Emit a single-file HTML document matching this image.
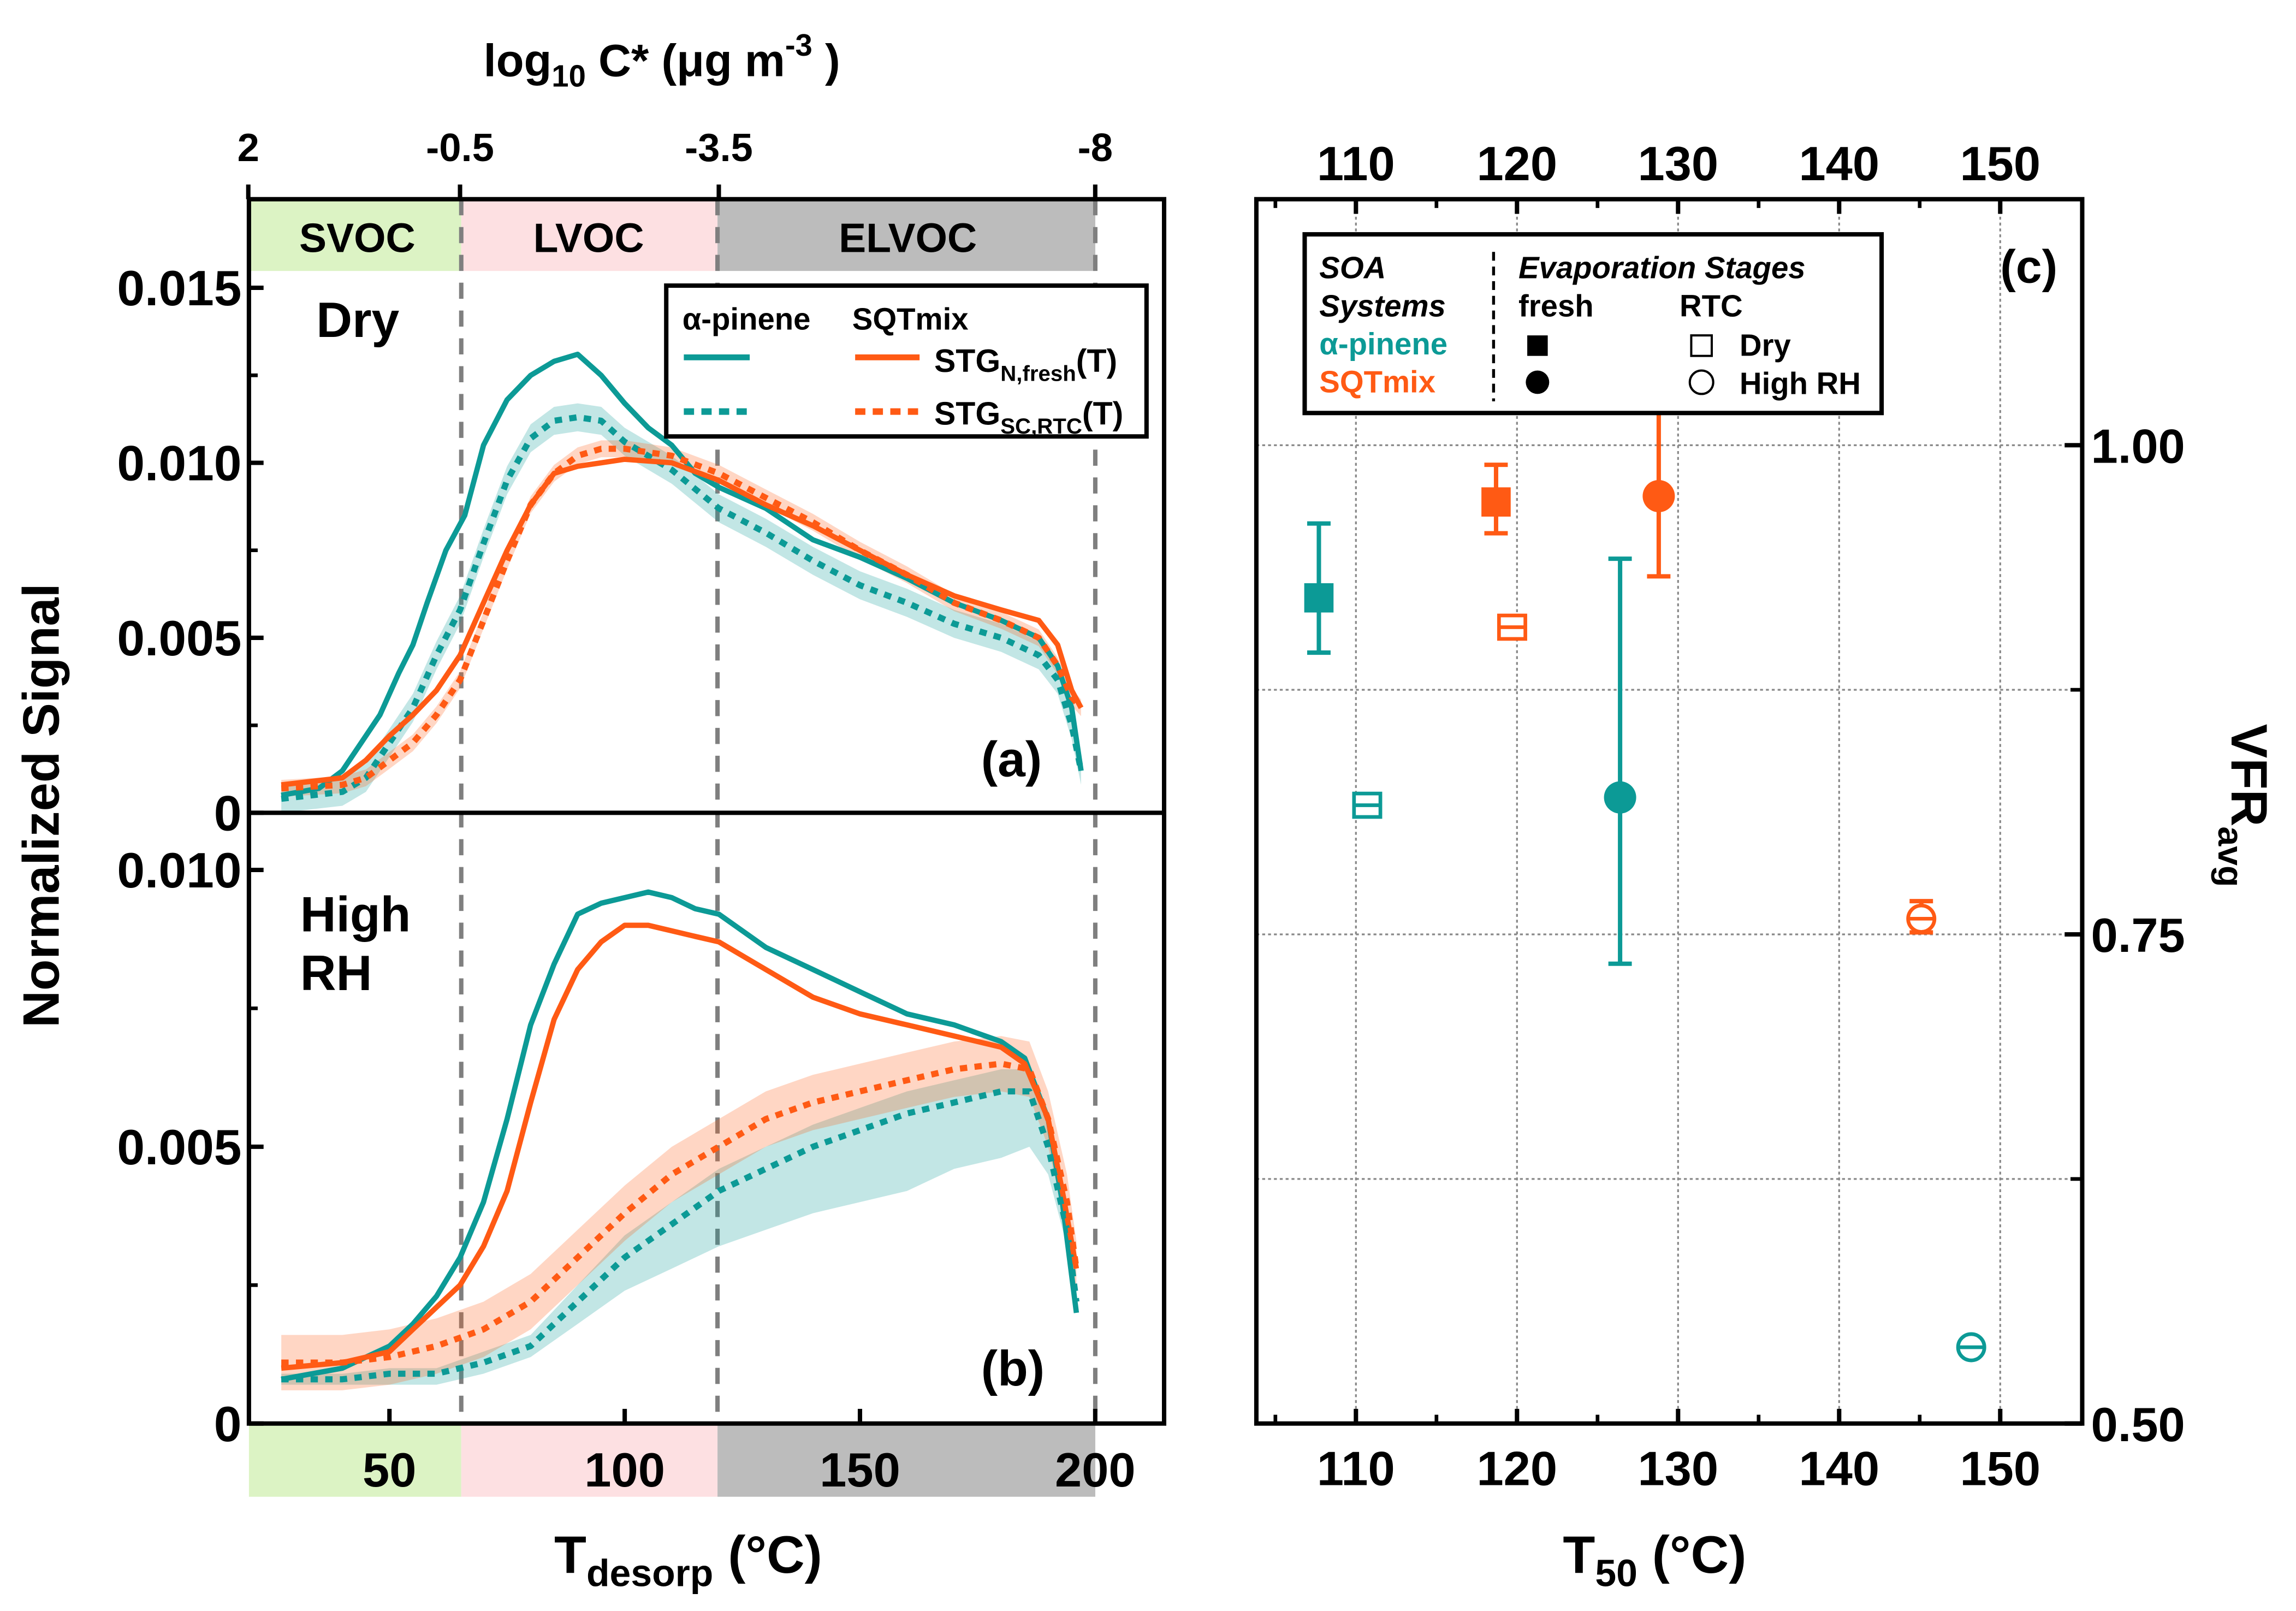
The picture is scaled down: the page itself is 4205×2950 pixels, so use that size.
<!DOCTYPE html>
<html><head><meta charset="utf-8">
<style>
html,body{margin:0;padding:0;background:#fff}
svg{display:block}
text{font-family:"Liberation Sans",Arial,sans-serif;font-weight:bold}
</style></head><body>
<svg id="chart" width="4205" height="2950" viewBox="0 0 1568 1100" xmlns="http://www.w3.org/2000/svg">
<g id="bg"><rect x="0" y="0" width="1568" height="1100" fill="#fff"/></g>
</svg>
<script>
// ---------- DATA ----------
const dryAlphaT = [27,35,40,45,48,52,55,58,62,66,70,75,80,85,90,95,100,105,110,115,120,130,140,150,160,170,180,188,192,195,197];
const dryAlphaFresh = [0.0005,0.0007,0.0012,0.0022,0.0028,0.004,0.0048,0.006,0.0075,0.0085,0.0105,0.0118,0.0125,0.0129,0.0131,0.0125,0.0117,0.011,0.0105,0.0097,0.0093,0.0087,0.0078,0.0073,0.0067,0.006,0.0055,0.005,0.0042,0.003,0.0012];
const dryT = [27,40,45,50,55,60,65,70,75,80,85,90,95,100,110,120,130,140,150,160,170,180,188,192,195,197];
const dryAlphaRTC = [0.0004,0.0006,0.001,0.002,0.003,0.0045,0.0058,0.0077,0.0095,0.0107,0.0112,0.0113,0.0112,0.0106,0.0098,0.0087,0.008,0.0072,0.0065,0.006,0.0054,0.005,0.0045,0.0038,0.0025,0.0012];
const drySqtFresh = [0.0008,0.001,0.0015,0.0022,0.0028,0.0035,0.0045,0.006,0.0075,0.0088,0.0097,0.0099,0.01,0.0101,0.01,0.0095,0.0088,0.0082,0.0075,0.0068,0.0062,0.0058,0.0055,0.0048,0.0035,0.003];
const drySqtRTC = [0.0007,0.0008,0.001,0.0015,0.002,0.0028,0.0038,0.0055,0.0072,0.0088,0.0097,0.0102,0.0104,0.0104,0.0102,0.0097,0.009,0.0083,0.0075,0.0068,0.006,0.0055,0.005,0.0042,0.0033,0.003];
const wetT = [27,40,50,55,60,65,70,75,80,85,90,95,100,105,110,115,120,130,140,150,160,170,180,185,190,193,196];
const wetAlphaFresh = [0.0008,0.001,0.0014,0.0018,0.0023,0.003,0.004,0.0055,0.0072,0.0083,0.0092,0.0094,0.0095,0.0096,0.0095,0.0093,0.0092,0.0086,0.0082,0.0078,0.0074,0.0072,0.0069,0.0066,0.0055,0.004,0.002];
const wetSqtFresh = [0.001,0.0011,0.0013,0.0017,0.0021,0.0025,0.0032,0.0042,0.0058,0.0073,0.0082,0.0087,0.009,0.009,0.0089,0.0088,0.0087,0.0082,0.0077,0.0074,0.0072,0.007,0.0068,0.0065,0.0055,0.0042,0.0028];
const wetRtcT = [27,40,50,60,70,80,90,100,110,120,130,140,150,160,170,180,186,190,194,196];
const wetAlphaRTC = [0.0008,0.0008,0.0009,0.0009,0.0011,0.0014,0.0022,0.003,0.0036,0.0042,0.0046,0.005,0.0053,0.0056,0.0058,0.006,0.006,0.005,0.0035,0.0022];
const wetAlphaRTCLo = [0.0007,0.0007,0.0007,0.0007,0.0009,0.0012,0.0018,0.0024,0.0028,0.0032,0.0035,0.0038,0.004,0.0042,0.0046,0.0048,0.005,0.0045,0.0032,0.002];
const wetAlphaRTCHi = [0.0009,0.0009,0.001,0.001,0.0013,0.0016,0.0025,0.0034,0.004,0.0046,0.005,0.0054,0.0057,0.006,0.0062,0.0064,0.0064,0.0055,0.0038,0.0024];
const wetSqtRTC = [0.0011,0.0011,0.0012,0.0014,0.0017,0.0022,0.003,0.0038,0.0045,0.005,0.0055,0.0058,0.006,0.0062,0.0064,0.0065,0.0064,0.0055,0.004,0.0028];
const dryBand = 0.0004, wetSqtBand = 0.0005;

const vfrLabels = ['a-fresh-dry','sqt-fresh-dry','a-rtc-dry','sqt-rtc-dry','a-fresh-rh','sqt-fresh-rh','sqt-rtc-rh','a-rtc-rh'];
const vfrT50 = [107.7,118.7,110.7,119.7,126.4,128.8,145.1,148.2];
const vfrVal = [0.922,0.971,0.816,0.907,0.82,0.974,0.758,0.539];
const vfrLo = [0.894,0.955,0.816,0.907,0.735,0.933,0.751,0.539];
const vfrHi = [0.96,0.99,0.816,0.907,0.942,1.025,0.767,0.539];
const vfrSystem = ['a','s','a','s','a','s','s','a'];
const vfrShape = ['sq','sq','osq','osq','ci','ci','oci','oci'];

const leftXTicks = [50,100,150,200];
const topLabels = ['2','-0.5','-3.5','-8'];
const topLabelT = [20,65,120,200];
const aTicks = ['0','0.005','0.010','0.015'];
const bTicks = ['0','0.005','0.010'];
const rxTicks = [110,120,130,140,150];
const ryTicks = ['0.50','0.75','1.00'];

// ---------- AXES ----------
const xT = t => 105.3 + 3.2133*t;
const ya = v => 555 - v*23900;
const yb = v => 972 - v*37800;
const xR = t => 926 + (t-110)*11.0;
const yR = v => 972 - (v-0.5)*1336;

const TEAL='#0c9a96', ORANGE='#ff5a14';
const svg=document.getElementById('chart');
const NS='http://www.w3.org/2000/svg';
function mk(tag,attrs,parent){const e=document.createElementNS(NS,tag);for(const k in attrs)e.setAttribute(k,attrs[k]);(parent||svg).appendChild(e);return e;}
function txt(s,attrs,parent){if(!attrs.fill)attrs.fill='#000';const e=mk('text',attrs,parent);e.textContent=s;return e;}
function pathD(ts,vs,yf){return ts.map((t,i)=>(i?'L':'M')+xT(t).toFixed(1)+','+yf(vs[i]).toFixed(1)).join('');}
function bandD(ts,lo,hi,yf){let d=ts.map((t,i)=>(i?'L':'M')+xT(t).toFixed(1)+','+yf(hi[i]).toFixed(1)).join('');for(let i=ts.length-1;i>=0;i--)d+='L'+xT(ts[i]).toFixed(1)+','+yf(lo[i]).toFixed(1);return d+'Z';}

let e;
e=mk('rect',{x:170,y:136,width:145,height:49,fill:'#dcf3c4'});
e=mk('rect',{x:315,y:136,width:175,height:49,fill:'#fde0e2'});
e=mk('rect',{x:490,y:136,width:258,height:49,fill:'#bcbcbc'});
e=mk('rect',{x:170,y:972,width:145,height:50,fill:'#dcf3c4'});
e=mk('rect',{x:315,y:972,width:175,height:50,fill:'#fde0e2'});
e=mk('rect',{x:490,y:972,width:258,height:50,fill:'#bcbcbc'});
e=txt('SVOC',{x:244,y:172,'font-size':28,'text-anchor':'middle'});
e=txt('LVOC',{x:402,y:172,'font-size':28,'text-anchor':'middle'});
e=txt('ELVOC',{x:620,y:172,'font-size':28,'text-anchor':'middle'});

[315,490,748].forEach(x=>{const l=mk('line',{x1:x,y1:136,x2:x,y2:972,stroke:'#7f7f7f','stroke-width':3,'stroke-dasharray':'11,8'});});

function band(d,col,op,name){const p=mk('path',{d:d,fill:col,'fill-opacity':op,stroke:'none'});}
band(bandD(dryT,dryAlphaRTC.map(v=>v-dryBand),dryAlphaRTC.map(v=>v+dryBand),ya),TEAL,0.25,'dry-alpha-rtc-band');
band(bandD(dryT,drySqtRTC.map(v=>v-dryBand*0.6),drySqtRTC.map(v=>v+dryBand*0.6),ya),ORANGE,0.25,'dry-sqt-rtc-band');
band(bandD(wetRtcT,wetAlphaRTCLo,wetAlphaRTCHi,yb),TEAL,0.25,'rh-alpha-rtc-band');
band(bandD(wetRtcT,wetSqtRTC.map(v=>v-wetSqtBand),wetSqtRTC.map(v=>v+wetSqtBand),yb),ORANGE,0.25,'rh-sqt-rtc-band');
function line(d,col,dash,name){const p=mk('path',{d:d,fill:'none',stroke:col,'stroke-width':dash?4.2:3.6,'stroke-linejoin':'round'});if(dash)p.setAttribute('stroke-dasharray','5,5');}
line(pathD(dryAlphaT,dryAlphaFresh,ya),TEAL,false,'dry-alpha-fresh-line');
line(pathD(dryT,dryAlphaRTC,ya),TEAL,true,'dry-alpha-rtc-line');
line(pathD(dryT,drySqtFresh,ya),ORANGE,false,'dry-sqt-fresh-line');
line(pathD(dryT,drySqtRTC,ya),ORANGE,true,'dry-sqt-rtc-line');
line(pathD(wetT,wetAlphaFresh,yb),TEAL,false,'rh-alpha-fresh-line');
line(pathD(wetT,wetSqtFresh,yb),ORANGE,false,'rh-sqt-fresh-line');
line(pathD(wetRtcT,wetAlphaRTC,yb),TEAL,true,'rh-alpha-rtc-line');
line(pathD(wetRtcT,wetSqtRTC,yb),ORANGE,true,'rh-sqt-rtc-line');

e=mk('rect',{x:170,y:136,width:625,height:836,fill:'none',stroke:'#000','stroke-width':3});
e=mk('line',{x1:170,y1:555,x2:795,y2:555,stroke:'#000','stroke-width':3});

aTicks.forEach((s,i)=>{const v=i*0.005;const y=ya(v);const t=mk('line',{x1:170,y1:y,x2:180,y2:y,stroke:'#000','stroke-width':3});
 const l=txt(s,{x:165,y:y+12,'font-size':34,'text-anchor':'end'});
 if(i<3){const m=mk('line',{x1:170,y1:ya(v+0.0025),x2:176,y2:ya(v+0.0025),stroke:'#000','stroke-width':2.5});}});
bTicks.forEach((s,i)=>{const v=i*0.005;const y=yb(v);const t=mk('line',{x1:170,y1:y,x2:180,y2:y,stroke:'#000','stroke-width':3});
 if(i>0){const l=txt(s,{x:165,y:y+12,'font-size':34,'text-anchor':'end'});}
 if(i<2){const m=mk('line',{x1:170,y1:yb(v+0.0025),x2:176,y2:yb(v+0.0025),stroke:'#000','stroke-width':2.5});}});
e=txt('0',{x:165,y:984,'font-size':34,'text-anchor':'end'});
leftXTicks.forEach(t=>{const x=xT(t);const k=mk('line',{x1:x,y1:972,x2:x,y2:962,stroke:'#000','stroke-width':3});
 const l=txt(String(t),{x:x,y:1015,'font-size':33,'text-anchor':'middle'});});
e=txt('',{x:470,y:1074,'font-size':36,'text-anchor':'middle'});
e.innerHTML='T<tspan font-size="26" dy="9">desorp</tspan><tspan dy="-9"> (°C)</tspan>';
topLabels.forEach((s,i)=>{const x=xT(topLabelT[i]);const k=mk('line',{x1:x,y1:136,x2:x,y2:126,stroke:'#000','stroke-width':3});
 const l=txt(s,{x:x,y:110,'font-size':27,'text-anchor':'middle'});});
e=txt('',{x:452,y:52,'font-size':31,'text-anchor':'middle'});
e.innerHTML='log<tspan font-size="21" dy="7">10</tspan><tspan dy="-7"> C* (μg m</tspan><tspan font-size="21" dy="-14">-3</tspan><tspan dy="14"> )</tspan>';
e=txt('Normalized Signal',{x:40,y:550,'font-size':35,'text-anchor':'middle',transform:'rotate(-90 40 550)'});
e=txt('Dry',{x:216,y:230,'font-size':34});
e=txt('High',{x:205,y:636,'font-size':34});
e=txt('RH',{x:205,y:676,'font-size':34});
e=txt('(a)',{x:670,y:530,'font-size':34});
e=txt('(b)',{x:670,y:946,'font-size':34});

const lg=mk('g',{});
mk('rect',{x:455,y:195,width:328,height:103,fill:'#fff',stroke:'#000','stroke-width':3},lg);
txt('α-pinene',{x:466,y:225,'font-size':21},lg);
txt('SQTmix',{x:582,y:225,'font-size':21},lg);
mk('line',{x1:467,y1:244,x2:512,y2:244,stroke:TEAL,'stroke-width':4},lg);
mk('line',{x1:584,y1:244,x2:628,y2:244,stroke:ORANGE,'stroke-width':4},lg);
mk('line',{x1:467,y1:281,x2:512,y2:281,stroke:TEAL,'stroke-width':4.5,'stroke-dasharray':'7,5'},lg);
mk('line',{x1:584,y1:281,x2:628,y2:281,stroke:ORANGE,'stroke-width':4.5,'stroke-dasharray':'7,5'},lg);
const l1=txt('',{x:638,y:254,'font-size':22},lg);l1.innerHTML='STG<tspan font-size="15" dy="6">N,fresh</tspan><tspan dy="-6">(T)</tspan>';
const l2=txt('',{x:638,y:290,'font-size':22},lg);l2.innerHTML='STG<tspan font-size="15" dy="6">SC,RTC</tspan><tspan dy="-6">(T)</tspan>';

// ---------- RIGHT PANEL ----------
rxTicks.forEach(t=>{const x=xR(t);const g=mk('line',{x1:x,y1:136,x2:x,y2:972,stroke:'#888','stroke-width':1.2,'stroke-dasharray':'2,2'});});
[0.625,0.75,0.875,1.0].forEach(v=>{const y=yR(v);const g=mk('line',{x1:858,y1:y,x2:1422,y2:y,stroke:'#888','stroke-width':1.2,'stroke-dasharray':'2,2'});});
e=mk('rect',{x:858,y:136,width:564,height:836,fill:'none',stroke:'#000','stroke-width':3});
rxTicks.forEach(t=>{const x=xR(t);
 [[972,962],[136,146]].forEach(p=>{const k=mk('line',{x1:x,y1:p[0],x2:x,y2:p[1],stroke:'#000','stroke-width':3});});
 [[972,966],[136,142]].forEach(p=>{const k=mk('line',{x1:x-55,y1:p[0],x2:x-55,y2:p[1],stroke:'#000','stroke-width':2.5});});
 const l=txt(String(t),{x:x,y:1014,'font-size':33,'text-anchor':'middle'});
 const u=txt(String(t),{x:x,y:123,'font-size':33,'text-anchor':'middle'});});
ryTicks.forEach(s=>{const y=yR(parseFloat(s));const k=mk('line',{x1:1422,y1:y,x2:1410,y2:y,stroke:'#000','stroke-width':3});
 const l=txt(s,{x:1428,y:y+12,'font-size':33});});
[0.625,0.875].forEach(v=>{const k=mk('line',{x1:1422,y1:yR(v),x2:1414,y2:yR(v),stroke:'#000','stroke-width':2.5});});
e=txt('',{x:1130,y:1074,'font-size':36,'text-anchor':'middle'});
e.innerHTML='T<tspan font-size="26" dy="9">50</tspan><tspan dy="-9"> (°C)</tspan>';
e=txt('',{x:1524,y:550,'font-size':35,'text-anchor':'middle',transform:'rotate(90 1524 550)'});
e.innerHTML='VFR<tspan font-size="24" dy="9">avg</tspan>';
e=txt('(c)',{x:1366,y:193,'font-size':32});

vfrT50.forEach((t,i)=>{const col=vfrSystem[i]==='a'?TEAL:ORANGE;const x=xR(t),y=yR(vfrVal[i]);
 const g=mk('g',{});
 const y1=yR(vfrHi[i]),y2=yR(vfrLo[i]);
 if(y2-y1>2){mk('line',{x1:x,y1:y1,x2:x,y2:y2,stroke:col,'stroke-width':3},g);mk('line',{x1:x-8,y1:y1,x2:x+8,y2:y1,stroke:col,'stroke-width':3},g);mk('line',{x1:x-8,y1:y2,x2:x+8,y2:y2,stroke:col,'stroke-width':3},g);}
 const sh=vfrShape[i];
 if(sh==='sq')mk('rect',{x:x-10,y:y-10,width:20,height:20,fill:col},g);
 else if(sh==='ci')mk('circle',{cx:x,cy:y,r:11,fill:col},g);
 else if(sh==='osq'){mk('rect',{x:x-9,y:y-8,width:18,height:16,fill:'#fff',stroke:col,'stroke-width':2.5},g);mk('line',{x1:x-9,y1:y,x2:x+9,y2:y,stroke:col,'stroke-width':2.5},g);}
 else {mk('circle',{cx:x,cy:y,r:9,fill:'#fff',stroke:col,'stroke-width':2.5},g);mk('line',{x1:x-9,y1:y,x2:x+9,y2:y,stroke:col,'stroke-width':2.5},g);}
});

const rg=mk('g',{});
mk('rect',{x:891,y:160,width:394,height:122,fill:'#fff',stroke:'#000','stroke-width':3},rg);
txt('SOA',{x:901,y:190,'font-size':21,'font-style':'italic'},rg);
txt('Systems',{x:901,y:216,'font-size':21,'font-style':'italic'},rg);
txt('α-pinene',{x:901,y:242,'font-size':21,fill:TEAL},rg);
txt('SQTmix',{x:901,y:268,'font-size':21,fill:ORANGE},rg);
mk('line',{x1:1020,y1:172,x2:1020,y2:274,stroke:'#000','stroke-width':2,'stroke-dasharray':'6,4'},rg);
txt('Evaporation Stages',{x:1037,y:190,'font-size':21,'font-style':'italic'},rg);
txt('fresh',{x:1037,y:216,'font-size':21},rg);
txt('RTC',{x:1147,y:216,'font-size':21},rg);
mk('rect',{x:1043,y:229,width:14,height:14,fill:'#000'},rg);
mk('circle',{cx:1050,cy:261,r:8,fill:'#000'},rg);
mk('rect',{x:1155,y:229,width:14,height:14,fill:'none',stroke:'#000','stroke-width':1.5},rg);
mk('circle',{cx:1162,cy:261,r:8,fill:'none',stroke:'#000','stroke-width':1.5},rg);
txt('Dry',{x:1188,y:243,'font-size':21},rg);
txt('High RH',{x:1188,y:269,'font-size':21},rg);
</script>
</body></html>
